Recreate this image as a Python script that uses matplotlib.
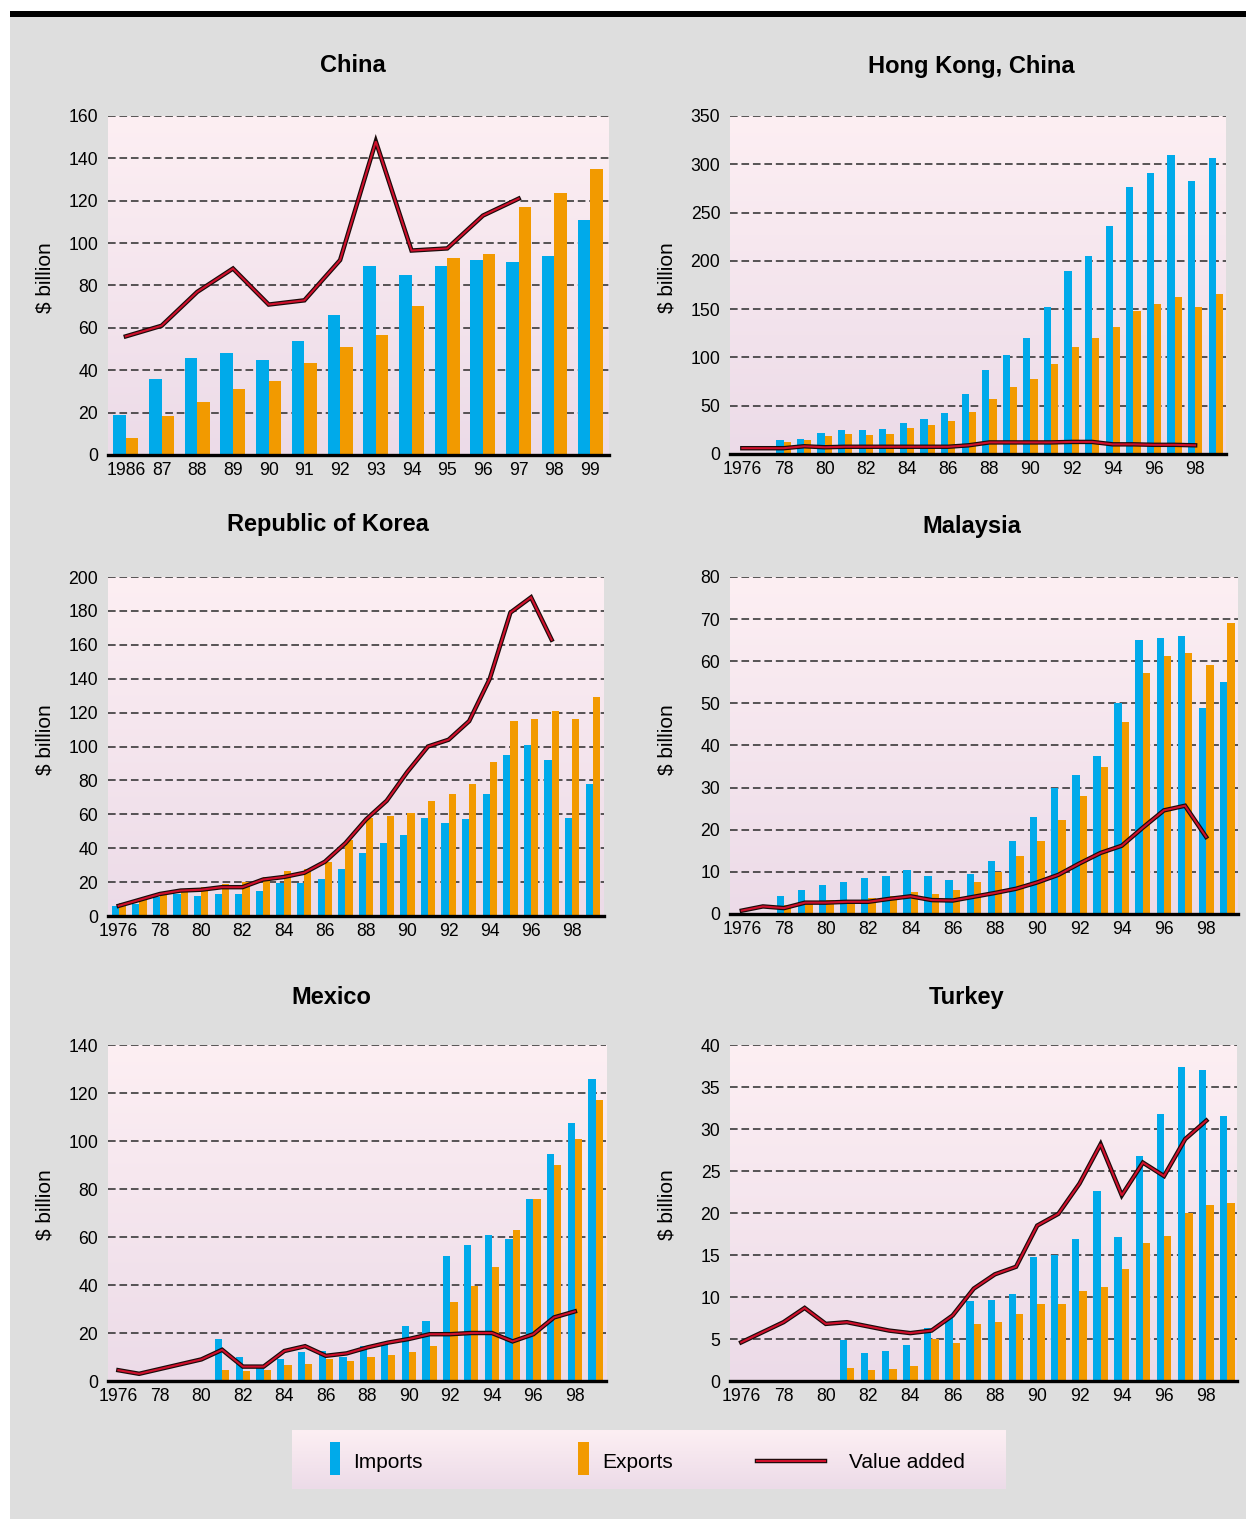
import numpy as np
import matplotlib
matplotlib.use("Agg")
import matplotlib.pyplot as plt
from matplotlib.patches import Rectangle
import matplotlib.patheffects as pe

plt.rcParams['font.family'] = ['Liberation Sans', 'DejaVu Sans']

# ---- data ($ billion) ----
china_bar_years = list(range(1986, 2000))
china_imports = [19, 36, 46, 48, 45, 54, 66, 89, 85, 89, 92, 91, 94, 111]
china_exports = [8, 18.5, 25, 31, 35, 43.5, 51, 56.5, 70.5, 93, 95, 117, 123.5, 135]
china_va_years = list(range(1986, 1998))
china_va = [56, 61, 77, 88, 71, 73, 92, 148, 96.5, 97.5, 113, 121]

hk_bar_years = list(range(1978, 2000))
hk_imports = [14, 16, 22, 25, 25, 26, 32, 36, 42, 62, 87, 102, 120, 152, 189, 205,
              236, 276, 291, 310, 283, 307]
hk_exports = [12, 14, 19, 21, 20, 21, 27, 30, 34, 44, 57, 69, 78, 93, 111, 120,
              131, 148, 155, 163, 152, 166]
hk_va_years = list(range(1976, 1999))
hk_va = [6, 6, 6, 8, 7, 7.5, 7.5, 7.5, 7.5, 7.5, 7.5, 9, 12, 12, 12, 12, 12.5, 12.5,
         10, 10, 9.5, 9.5, 9]

korea_bar_years = list(range(1976, 2000))
korea_imports = [6, 7, 11, 13, 12, 13, 13, 14.5, 19.5, 19.5, 22, 28, 37, 43, 48, 58,
                 55, 57, 72, 95, 101, 92, 58, 78]
korea_exports = [7.5, 10, 12.5, 15, 17, 19, 20, 23, 26.5, 28, 32, 45, 58, 59, 61, 68,
                 72, 78, 91, 115, 116, 121, 116, 129]
korea_va_years = list(range(1976, 1998))
korea_va = [6, 9.5, 13, 15, 15.5, 17, 17, 21.5, 23, 25.5, 32, 43, 57, 68, 85, 100,
            104, 115, 140, 179, 188, 163]

malaysia_bar_years = list(range(1978, 2000))
malaysia_imports = [4.2, 5.7, 7, 7.5, 8.5, 9, 10.5, 9, 8, 9.5, 12.5, 17.3, 23, 30, 33,
                    37.5, 50, 65, 65.5, 66, 49, 55]
malaysia_exports = [2.2, 3, 3.3, 3.3, 3.8, 4.2, 5.3, 4.8, 5.6, 7.6, 10, 13.8, 17.3,
                    22.3, 28, 35, 45.5, 57.3, 61.3, 62, 59, 69]
malaysia_va_years = list(range(1976, 1999))
malaysia_va = [0.8, 1.8, 1.4, 2.7, 2.7, 2.9, 2.9, 3.6, 4.2, 3.3, 3.2, 4.1, 5, 6, 7.5,
               9.3, 12, 14.5, 16.2, 20.5, 24.6, 25.7, 18.3]

mexico_bar_years = list(range(1981, 2000))
mexico_imports = [17.5, 10, 6.5, 9, 12, 12.5, 10, 14.5, 16, 23, 25, 52, 56.5, 61, 59,
                  76, 94.5, 107.5, 126]
mexico_exports = [4.5, 4, 4.5, 6.5, 7, 9, 8.5, 10, 11, 12, 14.5, 33, 39.5, 47.5, 63,
                  76, 90, 101, 117]
mexico_va_years = list(range(1976, 1999))
mexico_va = [4.5, 3, 5, 7, 9, 13, 6, 6, 12.5, 14.5, 10.5, 11.5, 14, 16, 17.5, 19.5,
             19.5, 20, 20, 16.5, 19.5, 26.5, 29]

turkey_bar_years = list(range(1981, 2000))
turkey_imports = [4.9, 3.3, 3.6, 4.3, 6.3, 7.5, 9.5, 9.6, 10.4, 14.8, 15, 16.9, 22.6,
                  17.1, 26.8, 31.8, 37.4, 37, 31.6]
turkey_exports = [1.5, 1.3, 1.4, 1.8, 5, 4.5, 6.8, 7, 8, 9.2, 9.2, 10.7, 11.2, 13.3,
                  16.4, 17.3, 20, 21, 21.2]
turkey_va_years = list(range(1976, 1999))
turkey_va = [4.6, 5.8, 7, 8.7, 6.8, 7, 6.5, 6, 5.7, 6, 7.8, 11, 12.7, 13.6, 18.5, 19.9,
             23.5, 28.2, 22.1, 26, 24.4, 28.8, 31]

china_ticks = list(range(1986, 2000))
china_ticklabels = ['1986'] + [str(y)[2:] for y in range(1987, 2000)]
long_ticks = list(range(1976, 1999, 2))
long_ticklabels = ['1976'] + [str(y)[2:] for y in range(1978, 1999, 2)]

# ---- styling ----
W, H = 1246, 1519
BLUE = '#00AAEA'
ORANGE = '#F29A00'
RED = '#D0102C'
GRAY = '#DEDEDE'
TOP_PINK = np.array([253, 239, 243]) / 255
BOT_PINK = np.array([236, 219, 232]) / 255
grad = np.linspace(0, 1, 256)[:, None, None]
grad_img = TOP_PINK * (1 - grad) + BOT_PINK * grad

fig = plt.figure(figsize=(W / 100, H / 100), dpi=100)
fig.patch.set_facecolor('white')
fig.patches.append(Rectangle((10 / W, 0), 1 - 10 / W, 1 - 17 / H, transform=fig.transFigure,
                             facecolor=GRAY, edgecolor='none', zorder=-10))
fig.patches.append(Rectangle((10 / W, 1 - 17 / H), 1 - 10 / W, 6 / H, transform=fig.transFigure,
                             facecolor='black', edgecolor='none', zorder=-9))

va_effects = [pe.Stroke(linewidth=3.2, foreground='#1a0a0a'), pe.Normal()]


def box(l, t, r, b):
    return [l / W, 1 - b / H, (r - l) / W, (b - t) / H]


def panel(rect, title, title_xy, label_y, bar_years, imp, exp, va_years, va,
          ymax, ystep, xlim, ticks, ticklabels):
    ax = fig.add_axes(box(*rect))
    ax.imshow(grad_img, extent=[0, 1, 0, 1], transform=ax.transAxes, aspect='auto', zorder=0)
    w = 0.35
    x = np.array(bar_years)
    ax.bar(x - w, imp, width=w, align='edge', color=BLUE, zorder=2)
    ax.bar(x, exp, width=w, align='edge', color=ORANGE, zorder=2)
    ax.plot(va_years, va, color=RED, lw=1.5, zorder=4, path_effects=va_effects,
            solid_joinstyle='miter')
    ax.set_xlim(*xlim)
    ax.set_ylim(0, ymax)
    yt = np.arange(0, ymax + 0.1, ystep)
    ax.set_yticks(yt)
    ax.set_yticklabels([f'{v:g}' for v in yt])
    for v in yt[1:]:
        ax.axhline(v, color='#2a2a2a', lw=1.1, ls=(0, (5, 2.5)), zorder=1)
    ax.set_xticks(ticks)
    ax.set_xticklabels(ticklabels)
    ax.tick_params(length=0, labelsize=12.7)
    ax.tick_params(axis='y', pad=7)
    ax.tick_params(axis='x', pad=5)
    for s in ['top', 'right', 'left']:
        ax.spines[s].set_visible(False)
    ax.spines['bottom'].set_linewidth(2.4)
    ax.spines['bottom'].set_zorder(5)
    fig.text(title_xy[0] / W, 1 - title_xy[1] / H, title, ha='center', va='center',
             fontsize=17, fontweight='bold')
    lx = 45 if rect[0] < 400 else 667
    fig.text(lx / W, 1 - label_y / H, '$ billion', rotation=90, ha='center', va='center',
             fontsize=15)
    return ax


panel((108, 116, 609, 455), 'China', (353, 66), 278, china_bar_years, china_imports,
      china_exports, china_va_years, china_va, 160, 20, (1985.5, 1999.53),
      china_ticks, china_ticklabels)
panel((730, 116, 1226, 454), 'Hong Kong, China', (971, 67), 278, hk_bar_years, hk_imports,
      hk_exports, hk_va_years, hk_va, 350, 50, (1975.4, 1999.5),
      long_ticks, long_ticklabels)
panel((108, 577, 604, 916), 'Republic of Korea', (328, 525), 740, korea_bar_years,
      korea_imports, korea_exports, korea_va_years, korea_va, 200, 20, (1975.48, 1999.54),
      long_ticks, long_ticklabels)
panel((730, 577, 1238, 914), 'Malaysia', (972, 527), 740, malaysia_bar_years,
      malaysia_imports, malaysia_exports, malaysia_va_years, malaysia_va, 80, 10,
      (1975.44, 1999.51), long_ticks, long_ticklabels)
panel((108, 1045, 606, 1381), 'Mexico', (331, 997), 1205, mexico_bar_years,
      mexico_imports, mexico_exports, mexico_va_years, mexico_va, 140, 20,
      (1975.5, 1999.5), long_ticks, long_ticklabels)
panel((730, 1045, 1237, 1381), 'Turkey', (967, 997), 1205, turkey_bar_years,
      turkey_imports, turkey_exports, turkey_va_years, turkey_va, 40, 5,
      (1975.47, 1999.45), long_ticks, long_ticklabels)

# ---- legend box ----
lg = fig.add_axes(box(292, 1430, 1006, 1489))
lg.imshow(grad_img, extent=[292, 1006, 1489, 1430], aspect='auto', zorder=0)
lg.set_xlim(292, 1006)
lg.set_ylim(1489, 1430)
lg.axis('off')
lg.add_patch(Rectangle((330, 1442), 10, 33, facecolor=BLUE, edgecolor='none', zorder=2))
lg.text(353, 1462, 'Imports', va='center', ha='left', fontsize=15)
lg.add_patch(Rectangle((578, 1442), 11, 33, facecolor=ORANGE, edgecolor='none', zorder=2))
lg.text(602, 1462, 'Exports', va='center', ha='left', fontsize=15)
lg.plot([757, 825], [1461, 1461], color=RED, lw=1.5, path_effects=va_effects, zorder=3)
lg.text(849, 1462, 'Value added', va='center', ha='left', fontsize=15)

fig.savefig('out.png', dpi=100)
